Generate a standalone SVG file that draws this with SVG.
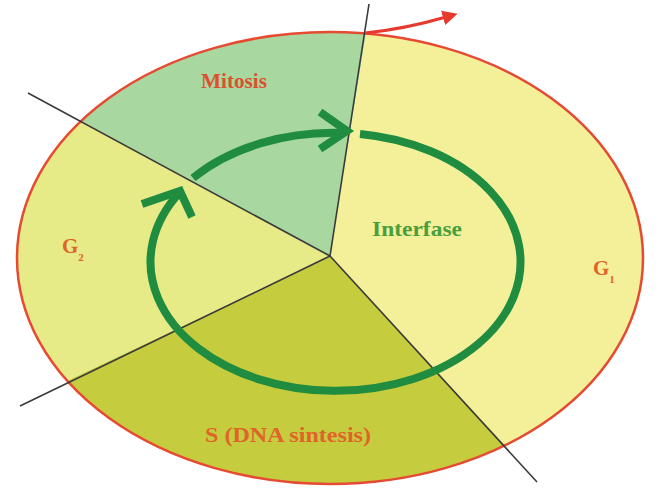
<svg xmlns="http://www.w3.org/2000/svg" width="657" height="489" viewBox="0 0 657 489">
<style>
.lbl{font-family:"Liberation Serif","Times New Roman",serif;font-weight:bold;fill:#e0642a}
.div{stroke:#3a3a3a;stroke-width:1.6;fill:none}
.cyc{stroke:#1f8c3f;stroke-width:8;fill:none}
</style>
<defs>
<clipPath id="cell"><ellipse cx="330" cy="258" rx="313" ry="226"/></clipPath>
<marker id="redhead" viewBox="0 0 10 10" refX="2" refY="5" markerWidth="5" markerHeight="5" orient="auto" markerUnits="strokeWidth"><path d="M0,0 L10,5 L0,10 Z" fill="#e8392e"/></marker>
</defs>
<rect width="657" height="489" fill="#ffffff"/>
<g id="sectors" clip-path="url(#cell)">
<polygon id="mitosis-sector" points="330,256 -100,22 -100,-100 388,-100" fill="#a8d89f"/>
<polygon id="g1-sector" points="330,256 388,-100 800,-100 800,600 647,600" fill="#f4f09a"/>
<polygon id="s-sector" points="330,256 647,600 -100,600 -100,460" fill="#c5cc3d"/>
<polygon id="g2-sector" points="330,256 -100,460 -100,22" fill="#e6ea87"/>
</g>
<ellipse id="cell-outline" cx="330" cy="258" rx="313" ry="226" fill="none" stroke="#e64a32" stroke-width="2.5"/>
<g id="connectors">
<line class="div" x1="330" y1="256" x2="369" y2="4"/>
<line class="div" x1="330" y1="256" x2="28" y2="93"/>
<line class="div" x1="330" y1="256" x2="20" y2="406"/>
<line class="div" x1="330" y1="256" x2="537" y2="482"/>
<path d="M365,33 Q405,29 446,17" fill="none" stroke="#e8392e" stroke-width="3" marker-end="url(#redhead)"/>
<path class="cyc" d="M360,134 A185 129 0 1 1 180,192"/>
<polyline class="cyc" points="142,204 180,191 192,217"/>
<path class="cyc" d="M193,178 A185 129 0 0 1 344,133"/>
<polyline class="cyc" points="320,112 347,131 320,149"/>
</g>
<g id="mitosis"><text class="lbl" x="234" y="88" font-size="21" text-anchor="middle" style="fill:#dd4f2f" textLength="66" lengthAdjust="spacingAndGlyphs">Mitosis</text></g>
<g id="interfase"><text class="lbl" x="417" y="236" font-size="21" text-anchor="middle" style="fill:#4a9e3c" textLength="90" lengthAdjust="spacingAndGlyphs">Interfase</text></g>
<g id="g2"><text class="lbl" x="62" y="253" font-size="21">G<tspan font-size="11" dy="8">2</tspan></text></g>
<g id="g1"><text class="lbl" x="593" y="275" font-size="21">G<tspan font-size="11" dy="8">1</tspan></text></g>
<g id="s-phase"><text class="lbl" x="288" y="442" font-size="21" text-anchor="middle" textLength="166" lengthAdjust="spacingAndGlyphs">S (DNA sintesis)</text></g>
</svg>
